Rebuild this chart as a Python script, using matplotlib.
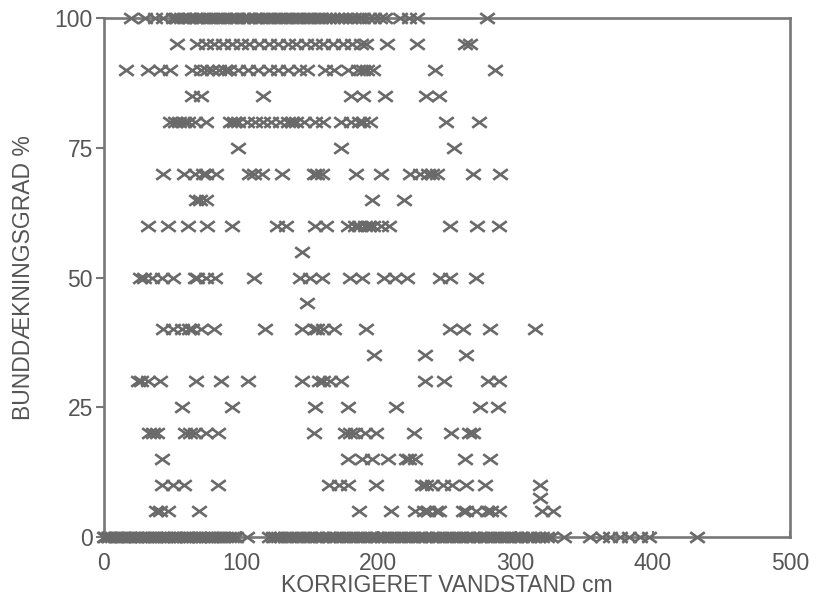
import matplotlib
matplotlib.use("Agg")
import matplotlib.pyplot as plt
from matplotlib.path import Path
import numpy as np

# ---- data: x values (KORRIGERET VANDSTAND cm) per cover level (%) ----
x_at_100 = [20, 30, 37, 43, 50, 53, 56, 58, 61, 63, 66, 68, 71, 73, 76, 78, 81, 83, 86, 88,
            91, 93, 96, 98, 101, 104, 106, 109, 111, 114, 116, 119, 121, 124, 127, 129, 132,
            134, 137, 140, 142, 145, 148, 150, 153, 156, 158, 161, 164, 167, 170, 173, 176,
            179, 182, 186, 189, 193, 197, 201, 205, 216, 222, 228, 279]
x_at_95 = [53, 68, 74, 80, 87, 93, 100, 106, 113, 120, 127, 134, 140, 147, 154, 160, 167, 174,
           181, 187, 191, 206, 228, 263, 267]
x_at_90 = [16, 32, 41, 48, 64, 71, 75, 79, 84, 88, 91, 98, 105, 112, 120, 127, 134, 142, 148,
           161, 168, 178, 185, 189, 192, 196, 241, 285]
x_at_85 = [64, 71, 116, 180, 189, 205, 235, 244]
x_at_80 = [48, 52, 55, 58, 61, 66, 74, 92, 95, 98, 104, 110, 116, 122, 128, 134, 137, 140, 146,
           154, 160, 173, 180, 186, 189, 194, 249, 273]
x_at_75 = [98, 173, 255]
x_at_70 = [43, 58, 66, 72, 74, 82, 106, 109, 115, 130, 153, 155, 159, 184, 202, 223, 230, 236,
           239, 243, 269, 289]
x_at_65 = [67, 70, 74, 195, 219]
x_at_60 = [32, 47, 61, 75, 93, 126, 133, 154, 162, 178, 183, 186, 190, 193, 196, 202, 208, 252,
           272, 288]
x_at_55 = [144]
x_at_50 = [26, 29, 35, 42, 50, 66, 68, 74, 81, 109, 143, 150, 159, 179, 188, 204, 212, 221, 245,
           252, 271]
x_at_45 = [148]
x_at_40 = [43, 50, 57, 62, 64, 71, 80, 117, 144, 153, 155, 160, 168, 191, 252, 262, 281, 314]
x_at_35 = [197, 234, 264]
x_at_30 = [25, 27, 32, 41, 67, 85, 105, 144, 157, 160, 165, 173, 234, 248, 280, 288]
x_at_25 = [57, 93, 154, 178, 213, 274, 287]
x_at_20 = [33, 36, 39, 59, 63, 66, 74, 83, 153, 176, 179, 183, 190, 198, 226, 253, 266, 269]
x_at_15 = [42, 178, 188, 195, 207, 220, 222, 227, 263, 281]
x_at_10 = [42, 50, 58, 83, 164, 171, 178, 198, 232, 235, 239, 247, 254, 264, 278, 318]
x_at_8 = [318]
x_at_5 = [38, 41, 47, 69, 186, 209, 227, 233, 236, 242, 244, 262, 264, 271, 279, 282, 288, 319, 327]
x_at_0 = [0, 1, 3, 4, 6, 8, 9, 11, 13, 14, 16, 18, 19, 21, 23, 24, 26, 28, 30, 31, 33, 35, 37,
          38, 40, 42, 44, 45, 47, 49, 51, 52, 54, 56, 58, 60, 61, 63, 65, 67, 69, 70, 72, 74,
          76, 78, 79, 81, 83, 85, 87, 89, 91, 93, 96, 104, 120, 123, 125, 127, 129, 132, 135,
          137, 140, 142, 145, 148, 150, 153, 155, 158, 160, 163, 165, 168, 170, 173, 175, 178,
          180, 183, 185, 188, 190, 193, 195, 198, 200, 203, 205, 208, 210, 213, 215, 218, 220,
          223, 225, 228, 230, 233, 235, 238, 240, 243, 245, 248, 250, 253, 255, 258, 260, 263,
          265, 268, 270, 273, 275, 278, 280, 283, 285, 288, 290, 293, 295, 298, 300, 303, 305,
          308, 310, 313, 316, 319, 323, 326, 335, 354, 363, 369, 376, 383, 391, 397, 432]

rows = {100: x_at_100, 95: x_at_95, 90: x_at_90, 85: x_at_85, 80: x_at_80, 75: x_at_75,
        70: x_at_70, 65: x_at_65, 60: x_at_60, 55: x_at_55, 50: x_at_50, 45: x_at_45,
        40: x_at_40, 35: x_at_35, 30: x_at_30, 25: x_at_25, 20: x_at_20, 15: x_at_15,
        10: x_at_10, 7.5: x_at_8, 5: x_at_5, 0: x_at_0}

x_ticks = [0, 100, 200, 300, 400, 500]
y_ticks = [0, 25, 50, 75, 100]
x_label = "KORRIGERET VANDSTAND cm"
y_label = "BUNDDÆKNINGSGRAD %"

xs, ys = [], []
for yv, xl in rows.items():
    xs.extend(xl)
    ys.extend([yv] * len(xl))

plt.rcParams['font.family'] = ['Liberation Sans', 'DejaVu Sans']
gray = '#6a6a6a'
txt = '#555555'
fs = 16.5

fig = plt.figure(figsize=(8.2, 6.04), dpi=100)
ax = fig.add_axes([0.1268, 0.1109, 0.8366, 0.8593])

cross = Path([(-1, -0.72), (1, 0.72), (-1, 0.72), (1, -0.72)],
             [Path.MOVETO, Path.LINETO, Path.MOVETO, Path.LINETO])
ax.scatter(xs, ys, marker=cross, s=110, color=gray, linewidths=1.9, clip_on=False, zorder=3)

ax.set_xlim(0, 500)
ax.set_ylim(0, 100)
ax.set_xticks(x_ticks)
ax.set_yticks(y_ticks)
for sp in ax.spines.values():
    sp.set_color('#777777')
    sp.set_linewidth(1.9)
ax.tick_params(axis='y', direction='out', length=6, width=1.5, color='#777777',
               labelsize=fs, labelcolor=txt, pad=2)
ax.tick_params(axis='x', direction='in', length=4, width=1.5, color='#777777',
               labelsize=fs, labelcolor=txt, pad=11)
ax.set_xlabel(x_label, fontsize=fs, color=txt, labelpad=-1)
ax.set_ylabel(y_label, fontsize=fs, color=txt, labelpad=14)

fig.savefig('out.png', dpi=100, facecolor='white')
